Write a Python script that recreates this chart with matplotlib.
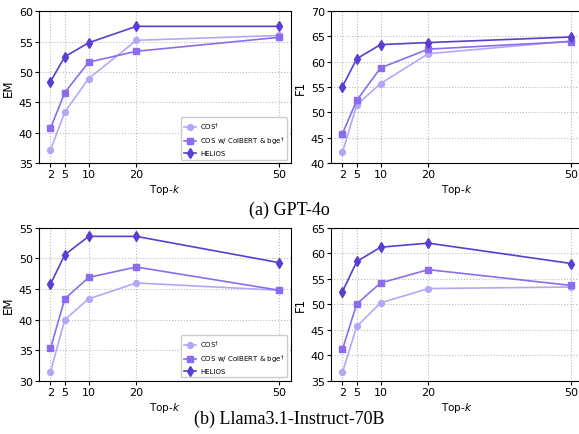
import matplotlib
matplotlib.use("Agg")
import matplotlib.pyplot as plt

# Top-k values
top_k = [2, 5, 10, 20, 50]

# (a) GPT-4o
gpt_em_cos = [37.1, 43.4, 48.9, 55.2, 56.0]
gpt_em_colbert = [40.7, 46.6, 51.6, 53.4, 55.7]
gpt_em_helios = [48.4, 52.5, 54.8, 57.5, 57.5]

gpt_f1_cos = [42.1, 51.5, 55.7, 61.6, 64.1]
gpt_f1_colbert = [45.8, 52.4, 58.8, 62.5, 64.0]
gpt_f1_helios = [55.1, 60.6, 63.4, 63.8, 64.9]

# (b) Llama3.1-Instruct-70B
llama_em_cos = [31.5, 40.0, 43.4, 46.0, 44.8]
llama_em_colbert = [35.3, 43.4, 46.9, 48.6, 44.8]
llama_em_helios = [45.8, 50.6, 53.6, 53.6, 49.3]

llama_f1_cos = [36.7, 45.7, 50.3, 53.1, 53.4]
llama_f1_colbert = [41.2, 50.1, 54.2, 56.8, 53.7]
llama_f1_helios = [52.5, 58.4, 61.2, 62.0, 58.0]

labels = ["COS$^{\\dagger}$", "COS w/ ColBERT & bge$^{\\dagger}$", "HELIOS"]
colors = ["#b6a6f7", "#8b6cf0", "#5b3dd0"]
markers = ["o", "s", "d"]

fig = plt.figure(figsize=(5.79, 4.35), dpi=100)

def draw(ax, series, ylabel, ylim, yticks, legend=False):
    for vals, lab, c, m in zip(series, labels, colors, markers):
        ax.plot(top_k, vals, marker=m, color=c, label=lab, linewidth=1.2,
                markersize=4.2 if m != "d" else 4.8)
    ax.set_ylim(*ylim)
    ax.set_yticks(yticks)
    ax.set_xticks(top_k)
    ax.set_xlim(-0.4, 52.4)
    ax.grid(True, linestyle=":", color="#bbbbbb", linewidth=0.8)
    ax.tick_params(labelsize=8, length=3, pad=1.5)
    ax.set_xlabel("Top-$k$", fontsize=7.5, labelpad=2)
    ax.set_ylabel(ylabel, fontsize=8.5, labelpad=3)
    if legend:
        ax.legend(loc="lower right", fontsize=5, framealpha=1, borderpad=0.45,
                  handlelength=1.7, labelspacing=0.45, borderaxespad=0.5,
                  handletextpad=0.6)

ax1 = fig.add_axes([0.0674, 0.623, 0.435, 0.349])
ax2 = fig.add_axes([0.5717, 0.623, 0.435, 0.349])
ax3 = fig.add_axes([0.0674, 0.122, 0.435, 0.352])
ax4 = fig.add_axes([0.5717, 0.122, 0.435, 0.352])

draw(ax1, [gpt_em_cos, gpt_em_colbert, gpt_em_helios], "EM", (35, 60), range(35, 61, 5), legend=True)
draw(ax2, [gpt_f1_cos, gpt_f1_colbert, gpt_f1_helios], "F1", (40, 70), range(40, 71, 5))
draw(ax3, [llama_em_cos, llama_em_colbert, llama_em_helios], "EM", (30, 55), range(30, 56, 5), legend=True)
draw(ax4, [llama_f1_cos, llama_f1_colbert, llama_f1_helios], "F1", (35, 65), range(35, 66, 5))

fig.text(0.5, 1 - 210 / 435, "(a) GPT-4o", ha="center", va="center",
         fontsize=13, family="Liberation Serif")
fig.text(0.5, 1 - 419 / 435, "(b) Llama3.1-Instruct-70B", ha="center", va="center",
         fontsize=13, family="Liberation Serif")

fig.savefig("out.png", dpi=100)
